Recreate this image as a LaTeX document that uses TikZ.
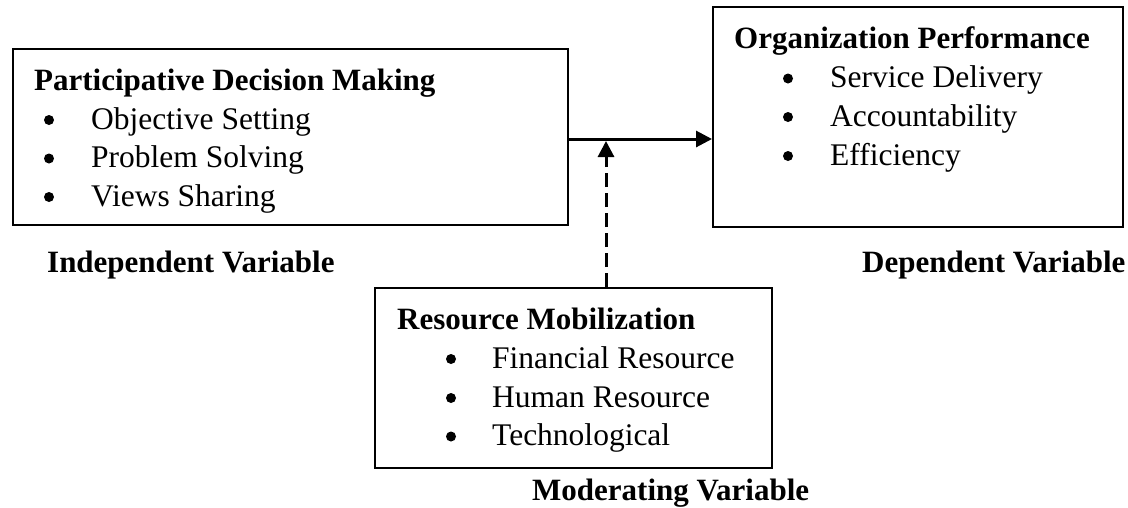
\documentclass[tikz,border=0pt]{standalone}
\usepackage{fontspec}
\setmainfont{Liberation Serif}
\usetikzlibrary{arrows.meta}
\tikzset{
  box/.style={draw, line width=2pt, inner sep=0pt},
  txt/.style={anchor=base west, inner sep=0pt, font=\fontsize{31.5}{38}\selectfont},
  ttl/.style={anchor=base west, inner sep=0pt, font=\fontsize{31}{38}\selectfont\bfseries},
  bul/.style={circle, fill, inner sep=0pt, minimum size=10pt},
  conn/.style={line width=3pt, -{Triangle[length=16pt,width=16pt]}},
  dconn/.style={line width=3pt, dash pattern=on 14pt off 6pt, -{Triangle[length=16pt,width=16pt]}}
}
\begin{document}
\begin{tikzpicture}[x=1pt,y=-1pt]
\useasboundingbox (0,0) rectangle (1128,507);
% boxes
\node[box, minimum width=555.5pt, minimum height=176pt] (L) at (290.25,137) {};
\node[box, minimum width=410pt, minimum height=220pt] (R) at (918,117) {};
\node[box, minimum width=397pt, minimum height=180pt] (B) at (573.5,378) {};
% left box text
\node[ttl] (Lt) at (34,90) {Participative Decision Making};
\node[bul] (Lb1) at (49,120) {};
\node[txt] (L1) at (91,129) {Objective Setting};
\node[bul] (Lb2) at (49,158.5) {};
\node[txt] (L2) at (91,167.5) {Problem Solving};
\node[bul] (Lb3) at (49,197) {};
\node[txt] (L3) at (91,206) {Views Sharing};
% right box text
\node[ttl] (Rt) at (734,48.5) {Organization Performance};
\node[bul] (Rb1) at (788,78.5) {};
\node[txt] (R1) at (830,87.5) {Service Delivery};
\node[bul] (Rb2) at (788,117) {};
\node[txt] (R2) at (830,126) {Accountability};
\node[bul] (Rb3) at (788,156) {};
\node[txt] (R3) at (830,165) {Efficiency};
% bottom box text
\node[ttl] (Bt) at (397,329) {Resource Mobilization};
\node[bul] (Bb1) at (451,359) {};
\node[txt] (B1) at (492,368) {Financial Resource};
\node[bul] (Bb2) at (451,398) {};
\node[txt] (B2) at (492,407) {Human Resource};
\node[bul] (Bb3) at (451,436.5) {};
\node[txt] (B3) at (492,445.5) {Technological};
% labels
\node[ttl] (Li) at (47,272) {Independent Variable};
\node[ttl] (Ld) at (862,272) {Dependent Variable};
\node[ttl] (Lm) at (532,500) {Moderating Variable};
% connectors
\coordinate (ay) at (0,139);
\coordinate (m) at (606,141);
\draw[conn] (L.east |- ay) -- (R.west |- ay);
\draw[dconn] (B.north -| m) -- (m);
\end{tikzpicture}
\end{document}
